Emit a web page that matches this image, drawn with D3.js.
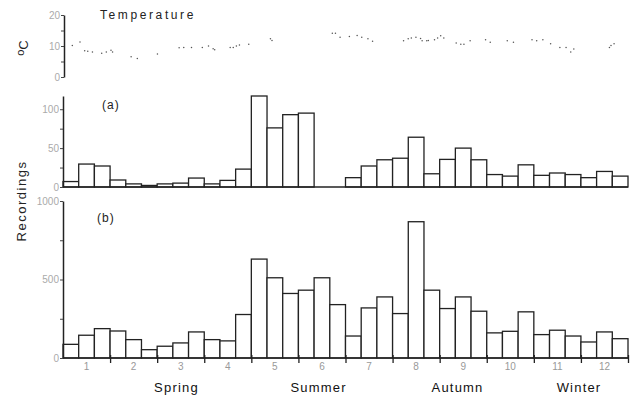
<!DOCTYPE html>
<html>
<head>
<meta charset="utf-8">
<script src="https://cdn.jsdelivr.net/npm/d3@7"></script>
<style>
  body { margin: 0; background: #fff; }
  text { font-family: 'Liberation Sans', Arial, sans-serif; }
</style>
</head>
<body>
<div id="chart"></div>
<script>
// months 1..12, three ten-day periods each
const months = [1, 2, 3, 4, 5, 6, 7, 8, 9, 10, 11, 12]
const seasons = ['Spring', 'Summer', 'Autumn', 'Winter']
// season label centres, in months from the start of the year
const seasonAt = [2.41, 5.43, 8.38, 10.96]

// (a) recordings per period
const recordingsA = [7, 29.5, 27, 9, 4, 2, 4, 5, 11.5, 4, 8.5, 23,
  117, 76, 93, 95, 0, 0, 12, 27, 35, 37, 64, 17,
  35.5, 50, 35, 16, 14, 28.5, 15, 18, 16, 12, 20, 14]

// (b) recordings per period
const recordingsB = [87, 145, 187, 172, 117, 53, 75, 96, 166, 117, 109, 277,
  630, 511, 411, 432, 511, 340, 140, 319, 389, 283, 868, 432,
  315, 389, 298, 160, 170, 294, 149, 177, 140, 102, 166, 123]

// temperature readings (day of year, deg C)
const tempDay = [6, 11, 14, 16, 19, 25, 28, 31, 32, 44, 48, 61, 75, 78, 83, 90, 94, 97, 98,
  108, 110, 112, 114, 120, 134, 135, 174, 176, 179, 185, 190, 193, 197, 200,
  220, 223, 225, 228, 231, 232, 235, 236, 240, 242, 244, 246, 254, 257, 259, 263,
  273, 276, 287, 291, 303, 306, 310, 315, 321, 325, 328, 330, 353, 354, 356]
const tempC = [10.2, 11.3, 8.5, 8.3, 8.1, 7.7, 8.1, 8.6, 8.1, 6.5, 6.0, 7.4, 9.4, 9.5, 9.5, 9.5, 10, 9.1, 8.8,
  9.5, 9.5, 10, 10.3, 10.6, 12.3, 11.8, 14.1, 14.1, 12.8, 13.1, 13.4, 12.8, 12.3, 11.5,
  11.7, 12.3, 12.6, 12.8, 12.4, 11.7, 11.7, 11.8, 12.0, 12.6, 13.3, 12.6, 11.0, 10.6, 10.6, 11.7,
  12.0, 11.2, 11.7, 11.2, 12, 11.7, 12, 10.7, 9.5, 9.5, 8.1, 9.0, 9.5, 10.2, 10.7]

const width = 639
const height = 397
const left = 63
const right = 628

const svg = d3
  .select('#chart')
  .append('svg')
  .attr('width', width)
  .attr('height', height)

const x = d3.scaleLinear().domain([0, 36]).range([left, right])
const xDay = d3.scaleLinear().domain([0, 365]).range([left, right])
const xMonth = d3.scaleBand().domain(months).range([left, right])
const xMonthLin = d3.scaleLinear().domain([0, 12]).range([left, right])

const yT = d3.scaleLinear().domain([0, 20]).range([77, 15])
const yA = d3.scaleLinear().domain([0, 117]).range([187, 96])
const yB = d3.scaleLinear().domain([0, 1000]).range([358, 201])

function yAxis(scale, ticks, major, xPos) {
  const g = svg
    .append('g')
    .attr('transform', 'translate(' + xPos + ',0)')
    .call(
      d3
        .axisLeft(scale)
        .tickValues(ticks)
        .tickSize(3)
        .tickSizeOuter(0)
        .tickFormat(d => (d % major === 0 ? d : ''))
    )
  g.select('.domain').attr('stroke', '#222').attr('stroke-width', 1.5)
  g.selectAll('.tick line').attr('stroke', '#444')
  g.selectAll('.tick text')
    .attr('fill', '#aaa')
    .style('font-size', '10px')
    .attr('x', -4)
  return g
}

// temperature panel
yAxis(yT, [0, 5, 10, 15, 20], 10, 64)

svg
  .selectAll('.temp')
  .data(tempDay)
  .enter()
  .append('circle')
  .attr('class', 'temp')
  .attr('cx', d => xDay(d))
  .attr('cy', (d, i) => yT(tempC[i]))
  .attr('r', 0.75)
  .attr('fill', '#555')

svg.append('text')
  .attr('x', 100)
  .attr('y', 19)
  .style('font-size', '12px')
  .style('letter-spacing', '2.6px')
  .attr('fill', '#222')
  .text('Temperature')

const degLabel = svg.append('text')
  .attr('transform', 'translate(28,48) rotate(-90)')
  .attr('text-anchor', 'middle')
  .style('font-size', '13px')
  .attr('fill', '#222')
degLabel.append('tspan').attr('dy', '-4').style('font-size', '11px').text('o')
degLabel.append('tspan').attr('dy', '4').text('C')

// bars drawn as outlined boxes
function bars(values, yScale, cls) {
  svg
    .selectAll('.' + cls)
    .data(values)
    .enter()
    .append('rect')
    .attr('class', cls)
    .attr('x', (d, i) => x(i))
    .attr('width', x(1) - x(0))
    .attr('y', d => yScale(d))
    .attr('height', d => yScale(0) - yScale(d))
    .attr('fill', '#fff')
    .attr('stroke', '#222')
    .attr('stroke-width', 1.3)

  svg.append('line')
    .attr('x1', left)
    .attr('x2', right)
    .attr('y1', yScale(0))
    .attr('y2', yScale(0))
    .attr('stroke', '#222')
    .attr('stroke-width', 1.3)
}

// panel (a)
bars(recordingsA, yA, 'barA')
yAxis(yA, [0, 25, 50, 75, 100], 50, left)
svg.append('text')
  .attr('x', 102)
  .attr('y', 109)
  .style('font-size', '12px')
  .style('letter-spacing', '1px')
  .attr('fill', '#222')
  .text('(a)')

// panel (b)
bars(recordingsB, yB, 'barB')
yAxis(yB, [0, 250, 500, 750, 1000], 500, left)
svg.append('text')
  .attr('x', 97)
  .attr('y', 222)
  .style('font-size', '12px')
  .style('letter-spacing', '1px')
  .attr('fill', '#222')
  .text('(b)')

svg.append('text')
  .attr('transform', 'translate(26,201) rotate(-90)')
  .attr('text-anchor', 'middle')
  .style('font-size', '13px')
  .style('letter-spacing', '1.5px')
  .attr('fill', '#222')
  .text('Recordings')

// month boundary ticks
const ticks = svg
  .append('g')
  .attr('transform', 'translate(0,' + yB(0) + ')')
  .call(
    d3
      .axisBottom(x)
      .tickValues([3, 6, 9, 12, 15, 18, 21, 24, 27, 30, 33, 36])
      .tickSize(5)
      .tickSizeOuter(0)
      .tickFormat('')
  )
ticks.select('.domain').remove()
ticks.selectAll('.tick line').attr('stroke', '#222').attr('stroke-width', 1.3).attr('y1', -3)

// month labels
const monthAxis = svg
  .append('g')
  .attr('transform', 'translate(0,' + (yB(0) + 2) + ')')
  .call(d3.axisBottom(xMonth).tickSize(0))
monthAxis.select('.domain').remove()
monthAxis.selectAll('.tick text').attr('fill', '#999').style('font-size', '10px')

// season labels
svg
  .selectAll('.season')
  .data(seasons)
  .enter()
  .append('text')
  .attr('class', 'season')
  .attr('x', (d, i) => xMonthLin(seasonAt[i]))
  .attr('y', 392)
  .attr('text-anchor', 'middle')
  .style('font-size', '13px')
  .style('letter-spacing', '1.2px')
  .attr('fill', '#111')
  .text(d => d)
</script>
</body>
</html>
